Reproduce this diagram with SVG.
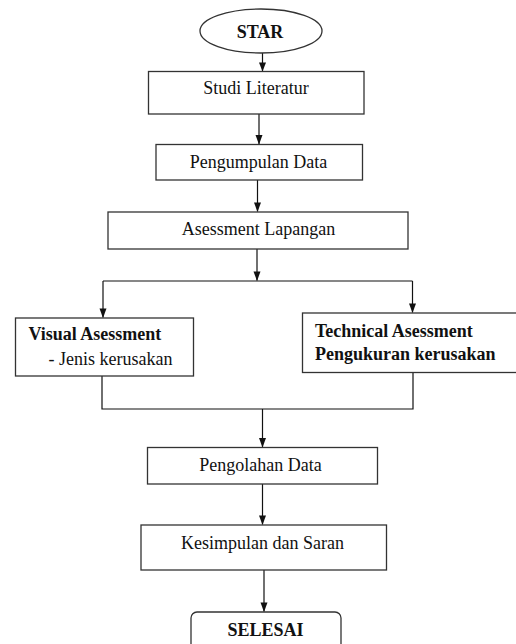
<svg xmlns="http://www.w3.org/2000/svg" width="516" height="644" viewBox="0 0 516 644">
<defs>
<style>
.box{fill:#fff;stroke:#333;stroke-width:1.3}
.t{font-family:"Liberation Serif","Times New Roman",serif;font-size:18px;fill:#111}
.c{text-anchor:middle}
.b{font-weight:bold}
.ln{fill:none;stroke:#111;stroke-width:1.2}
.ah{fill:#111}
</style>
</defs>
<rect width="516" height="644" fill="#fff"/>
<g id="connectors">
<path class="ln" d="M262.5,53 V71"/>
<path class="ln" d="M259,114 V144"/>
<path class="ln" d="M257.5,180 V211.5"/>
<path class="ln" d="M257,249 V280.5"/>
<path class="ln" d="M103,281 H412.5"/>
<path class="ln" d="M103,281 V317.5"/>
<path class="ln" d="M412.5,281 V312.5"/>
<path class="ln" d="M102,376 V409 H413 V372.5"/>
<path class="ln" d="M262.5,409 V447"/>
<path class="ln" d="M262.5,484 V524.5"/>
<path class="ln" d="M264,570 V611.5"/>
<path class="ah" d="M259,62.5 L266,62.5 L262.5,71.5 Z"/>
<path class="ah" d="M255.5,135 L262.5,135 L259,144.5 Z"/>
<path class="ah" d="M254,202.5 L261,202.5 L257.5,212 Z"/>
<path class="ah" d="M253.5,271.5 L260.5,271.5 L257,281 Z"/>
<path class="ah" d="M99.5,308.5 L106.5,308.5 L103,318 Z"/>
<path class="ah" d="M409,303.5 L416,303.5 L412.5,313 Z"/>
<path class="ah" d="M259,438 L266,438 L262.5,447.5 Z"/>
<path class="ah" d="M259,515.5 L266,515.5 L262.5,525 Z"/>
<path class="ah" d="M260.5,602.5 L267.5,602.5 L264,612 Z"/>
</g>
<g id="star">
<ellipse class="box" cx="261" cy="31" rx="61" ry="22"/>
<text class="t c b" x="260" y="38">STAR</text>
</g>
<g id="studi">
<rect class="box" x="148.5" y="71.5" width="215.5" height="42.5"/>
<text class="t c" x="256" y="94">Studi Literatur</text>
</g>
<g id="pengumpulan">
<rect class="box" x="156" y="144.5" width="206.5" height="35.5"/>
<text class="t c" x="258.5" y="168">Pengumpulan Data</text>
</g>
<g id="asessment">
<rect class="box" x="108" y="212" width="300" height="37"/>
<text class="t c" x="258.5" y="235">Asessment Lapangan</text>
</g>
<g id="visual">
<rect class="box" x="15.5" y="318" width="178" height="58"/>
<text class="t b" x="28.5" y="340">Visual Asessment</text>
<text class="t" x="48.5" y="365">- Jenis kerusakan</text>
</g>
<g id="technical">
<rect class="box" x="302.5" y="313" width="222" height="59.5"/>
<text class="t b" x="315" y="337">Technical Asessment</text>
<text class="t b" x="315" y="359.5">Pengukuran kerusakan</text>
</g>
<g id="pengolahan">
<rect class="box" x="147.5" y="447.5" width="230" height="36.5"/>
<text class="t c" x="260.5" y="471">Pengolahan Data</text>
</g>
<g id="kesimpulan">
<rect class="box" x="141" y="525" width="245.5" height="45"/>
<text class="t c" x="262.5" y="548.5">Kesimpulan dan Saran</text>
</g>
<g id="selesai">
<rect class="box" x="191" y="612" width="150" height="42" rx="6"/>
<text class="t c b" x="265.5" y="636">SELESAI</text>
</g>
</svg>
